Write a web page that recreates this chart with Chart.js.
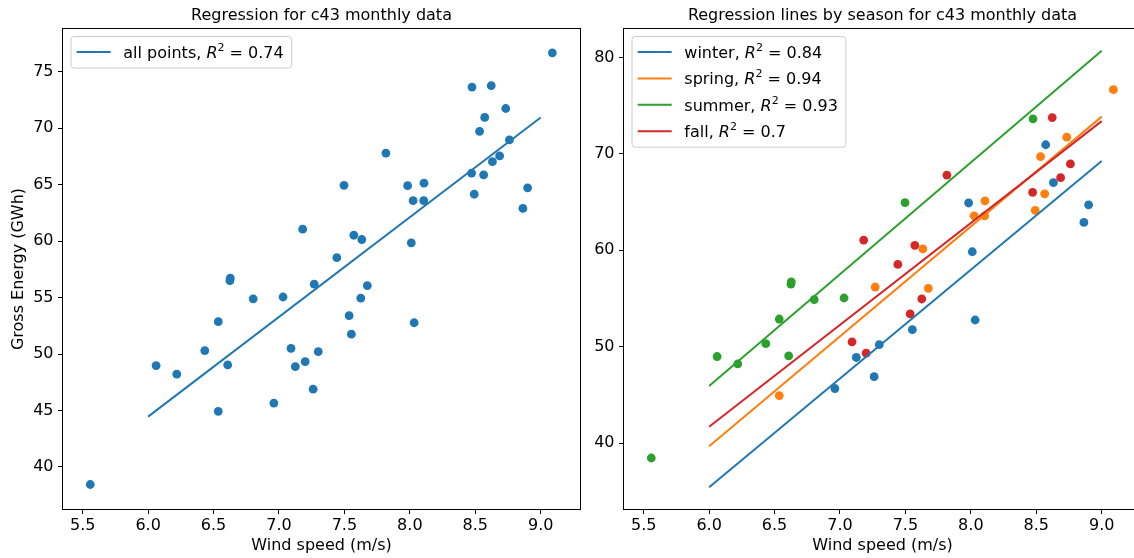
<!DOCTYPE html>
<html>
<head>
<meta charset="utf-8">
<script src="https://cdn.jsdelivr.net/npm/chart.js@4.4.1/dist/chart.umd.min.js"></script>
<style>
  html, body { margin: 0; padding: 0; background: #fff; overflow: hidden; width: 1134px; height: 558px; }
  canvas { position: absolute; top: 0; }
  #left { left: 0; }
  #right { left: 590px; }
</style>
</head>
<body>
<canvas id="left" width="600" height="558"></canvas>
<canvas id="right" width="560" height="558"></canvas>
<script>
// monthly points
const windSpeed = [9.089, 8.475, 8.622, 8.733, 8.572, 8.533, 8.761, 7.817, 8.686, 8.631, 8.472, 8.564,
                   7.497, 7.983, 8.108, 8.900, 8.492, 8.025, 8.106, 8.864, 7.181, 7.572, 7.633, 8.011,
                   7.442, 6.628, 6.625, 7.269, 7.675, 6.803, 7.031, 7.625, 7.536, 6.536, 8.033, 7.553,
                   6.433, 7.092, 7.300, 7.200, 7.125, 6.061, 6.608, 6.219, 7.261, 6.961, 6.536, 5.558]
const grossEnergy = [76.67, 73.64, 73.77, 71.74, 70.95, 69.72, 68.96, 67.79, 67.54, 67.03, 66.02, 65.86,
                     64.94, 64.91, 65.13, 64.72, 64.15, 63.58, 63.58, 62.89, 61.06, 60.52, 60.14, 59.85,
                     58.53, 56.72, 56.50, 56.19, 56.06, 54.89, 55.05, 54.95, 53.40, 52.87, 52.77, 51.76,
                     50.31, 50.50, 50.21, 49.33, 48.88, 48.98, 49.04, 48.22, 46.89, 45.66, 44.93, 38.45]
const season = ['spring', 'summer', 'fall', 'spring', 'winter', 'spring', 'fall', 'fall', 'fall', 'winter', 'fall', 'spring',
                'summer', 'winter', 'spring', 'winter', 'spring', 'spring', 'spring', 'winter', 'fall', 'fall', 'spring', 'winter',
                'fall', 'summer', 'summer', 'spring', 'spring', 'summer', 'summer', 'fall', 'fall', 'summer', 'winter', 'winter',
                'summer', 'fall', 'winter', 'fall', 'winter', 'summer', 'summer', 'summer', 'winter', 'winter', 'spring', 'summer']

const seasons = ['winter', 'spring', 'summer', 'fall']
const seasonColors = ['#1f77b4', '#ff7f0e', '#2ca02c', '#d62728']
const seasonR2 = ['0.84', '0.94', '0.93', '0.7']
const allR2 = '0.74'

// fitted lines, y at each end of fitX
const fitX = [6.0, 9.0]
const allFit = [44.46, 70.95]
const winterFit = [35.42, 69.26]
const springFit = [39.68, 73.87]
const summerFit = [45.93, 80.70]
const fallFit = [41.70, 73.40]
const seasonFits = [winterFit, springFit, summerFit, fallFit]

const xTicks = [5.5, 6.0, 6.5, 7.0, 7.5, 8.0, 8.5, 9.0]
const leftYTicks = [40, 45, 50, 55, 60, 65, 70, 75]
const rightYTicks = [40, 50, 60, 70, 80]

Chart.defaults.font.family = '"DejaVu Sans", sans-serif'
Chart.defaults.font.size = 16
Chart.defaults.color = '#000'

const FONT = '"DejaVu Sans"'

// axes box like matplotlib spines
const spines = {
    id: 'spines',
    afterDatasetsDraw(chart){
        const {ctx, chartArea: a} = chart
        ctx.save()
        ctx.strokeStyle = '#000'
        ctx.lineWidth = 1
        ctx.strokeRect(a.left - 0.5, a.top - 0.5, a.right - a.left + 1, a.bottom - a.top + 1)
        ctx.restore()
    }
}

// legend in a framed box, upper left inside the axes
const boxLegend = {
    id: 'boxLegend',
    afterDraw(chart, args, opts){
        const {ctx, chartArea} = chart
        const x0 = chartArea.left + 8, y0 = chartArea.top + 7.5
        const gap = 26.4
        const n = opts.names.length
        ctx.save()
        const rows = opts.names.map((name, i) => [
            {t: name + ', ', f: '16px ' + FONT, dy: 0},
            {t: 'R', f: 'italic 16px ' + FONT, dy: 0},
            {t: '2', f: '11px ' + FONT, dy: -7},
            {t: ' = ' + opts.r2[i], f: '16px ' + FONT, dy: 0}
        ])
        let maxW = 0
        rows.forEach(r => {
            let w = 0
            r.forEach(s => { ctx.font = s.f; w += ctx.measureText(s.t).width })
            maxW = Math.max(maxW, w)
        })
        const w = 52.3 + maxW + 8
        const h = 31.5 + (n - 1) * gap
        const rad = 3
        ctx.beginPath()
        ctx.moveTo(x0 + rad, y0)
        ctx.arcTo(x0 + w, y0, x0 + w, y0 + h, rad)
        ctx.arcTo(x0 + w, y0 + h, x0, y0 + h, rad)
        ctx.arcTo(x0, y0 + h, x0, y0, rad)
        ctx.arcTo(x0, y0, x0 + w, y0, rad)
        ctx.closePath()
        ctx.fillStyle = 'rgba(255,255,255,0.8)'
        ctx.fill()
        ctx.strokeStyle = '#cccccc'
        ctx.lineWidth = 1
        ctx.stroke()

        rows.forEach((r, i) => {
            const cy = y0 + 15.5 + i * gap
            ctx.strokeStyle = opts.colors[i]
            ctx.lineWidth = 2
            ctx.beginPath()
            ctx.moveTo(x0 + 5.7, cy)
            ctx.lineTo(x0 + 39.7, cy)
            ctx.stroke()
            let x = x0 + 52.3
            ctx.fillStyle = '#000'
            ctx.textBaseline = 'alphabetic'
            r.forEach(s => {
                ctx.font = s.f
                ctx.fillText(s.t, x, cy + 5.8 + s.dy)
                x += ctx.measureText(s.t).width
            })
        })
        ctx.restore()
    }
}

function fixTicks(list){
    return function(scale){
        scale.ticks = list.map(v => ({value: v}))
    }
}

function makeOptions(cfg){
    return {
        responsive: false,
        animation: false,
        events: [],
        layout: {padding: {left: 0, right: cfg.padRight, top: 0, bottom: 0}},
        plugins: {
            legend: {display: false},
            tooltip: {enabled: false},
            title: {
                display: true,
                text: cfg.title,
                fullSize: false,
                font: {size: 16, weight: 'normal'},
                padding: {top: 6, bottom: 3.8}
            },
            boxLegend: cfg.legend
        },
        scales: {
            x: {
                type: 'linear',
                min: cfg.xMin,
                max: cfg.xMax,
                afterBuildTicks: fixTicks(xTicks),
                afterFit(scale){ scale.height = 49 },
                ticks: {padding: 2, maxRotation: 0, autoSkip: false, callback: v => v.toFixed(1)},
                grid: {drawOnChartArea: false, drawTicks: true, tickLength: 5, color: '#000', lineWidth: 1},
                border: {display: false},
                title: {display: true, text: 'Wind speed (m/s)', font: {size: 16}, padding: {top: 0, bottom: 2.4}}
            },
            y: {
                type: 'linear',
                min: cfg.yMin,
                max: cfg.yMax,
                afterBuildTicks: fixTicks(cfg.yTicks),
                afterFit(scale){ scale.width = cfg.yWidth },
                ticks: {padding: 4.5, autoSkip: false, callback: v => String(v)},
                grid: {drawOnChartArea: false, drawTicks: true, tickLength: 5, color: '#000', lineWidth: 1},
                border: {display: false},
                title: {display: !!cfg.yTitle, text: cfg.yTitle || '', font: {size: 16}, padding: {top: 9.5, bottom: 0}}
            }
        }
    }
}

function pointsWhere(test){
    const pts = []
    windSpeed.forEach((x, i) => { if (test(i)) pts.push({x: x, y: grossEnergy[i]}) })
    return pts
}

function fitLine(ys){
    return fitX.map((x, i) => ({x: x, y: ys[i]}))
}

// left: all points
new Chart(document.getElementById('left'), {
    type: 'scatter',
    data: {
        datasets: [
            {label: 'all points', data: fitLine(allFit), showLine: true, pointRadius: 0,
             borderColor: seasonColors[0], borderWidth: 2, order: 0},
            {label: 'monthly', data: pointsWhere(() => true), pointRadius: 4.4, pointBorderWidth: 0,
             pointBackgroundColor: seasonColors[0], order: 1}
        ]
    },
    options: makeOptions({
        title: 'Regression for c43 monthly data',
        padRight: 20, yWidth: 63,
        xMin: 5.3495, xMax: 9.3003,
        yMin: 36.28, yMax: 78.78, yTicks: leftYTicks,
        yTitle: 'Gross Energy (GWh)',
        legend: {names: ['all points'], r2: [allR2], colors: [seasonColors[0]]}
    }),
    plugins: [spines, boxLegend]
})

// right: one colour and one line per season
const rightSets = []
seasons.forEach((s, k) => {
    rightSets.push({label: s + ' fit', data: fitLine(seasonFits[k]), showLine: true, pointRadius: 0,
                    borderColor: seasonColors[k], borderWidth: 2, order: 4 - k})
})
seasons.forEach((s, k) => {
    rightSets.push({label: s, data: pointsWhere(i => season[i] === s), pointRadius: 4.4, pointBorderWidth: 0,
                    pointBackgroundColor: seasonColors[k], order: 10 - k})
})

new Chart(document.getElementById('right'), {
    type: 'scatter',
    data: {datasets: rightSets},
    options: makeOptions({
        title: 'Regression lines by season for c43 monthly data',
        padRight: 9, yWidth: 34,
        xMin: 5.3495, xMax: 9.3003,
        yMin: 33.16, yMax: 82.96, yTicks: rightYTicks,
        legend: {names: seasons, r2: seasonR2, colors: seasonColors}
    }),
    plugins: [spines, boxLegend]
})
</script>
</body>
</html>
